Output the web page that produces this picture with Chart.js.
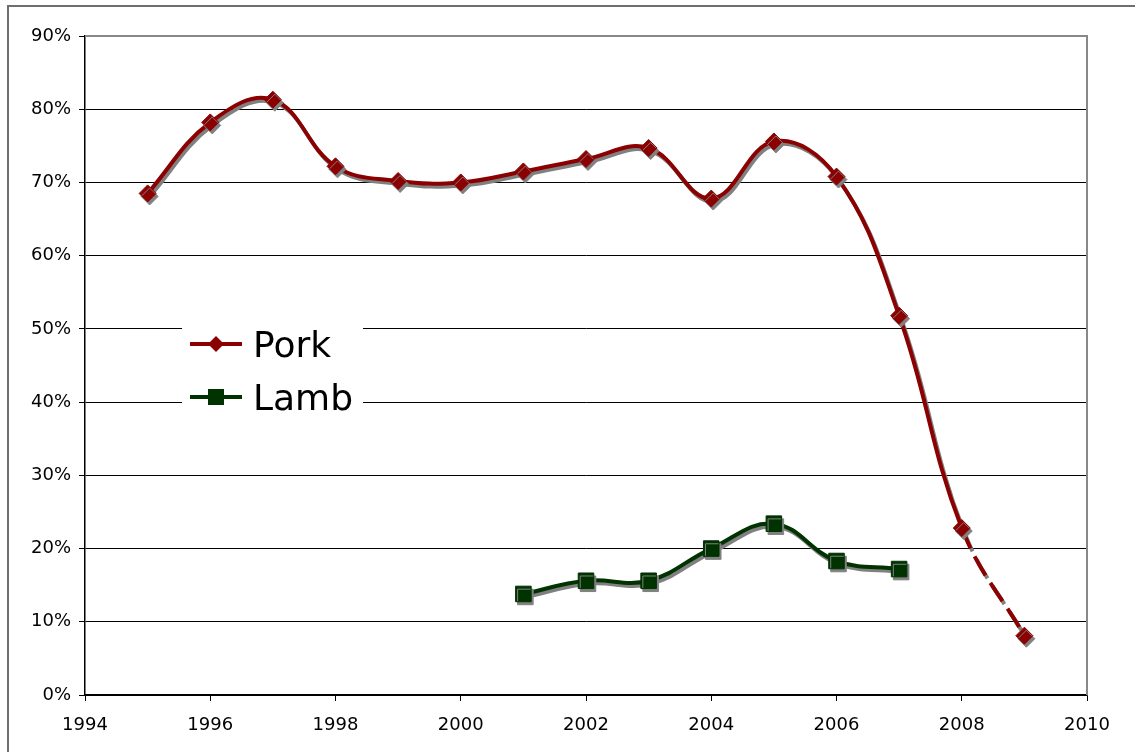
<!DOCTYPE html>
<html>
<head>
<meta charset="utf-8">
<script src="https://cdn.jsdelivr.net/npm/chart.js@4/dist/chart.umd.min.js"></script>
<style>
  html, body { margin: 0; padding: 0; background: #fff; }
  #wrap { position: relative; width: 1135px; height: 752px; overflow: hidden; background: #fff; }
  #frame { position: absolute; left: 7px; top: 5px; width: 1200px; height: 800px;
           border-left: 2px solid #6e6e6e; border-top: 2px solid #6e6e6e; pointer-events: none; }
  canvas { position: absolute; left: 0; top: 0; }
  #legend { position: absolute; left: 182px; top: 322px; width: 181px; height: 96px; background: #fff;
            font-family: "DejaVu Sans", sans-serif; font-size: 36px; color: #000; }
  .row { position: absolute; left: 8px; height: 44px; display: flex; align-items: center; }
  .row svg { margin-right: 9px; }
</style>
</head>
<body>
<div id="wrap">
  <canvas id="c" width="1135" height="752"></canvas>
  <div id="frame"></div>
  <div id="legend">
    <div class="row" style="top:0px;">
      <svg width="54" height="20"><line x1="0" y1="10" x2="52" y2="10" stroke="#8B0000" stroke-width="4"/><polygon points="26,2 34,10 26,18 18,10" fill="#8B0000"/></svg>
      <span>Pork</span>
    </div>
    <div class="row" style="top:53px;">
      <svg width="54" height="20"><line x1="0" y1="10" x2="52" y2="10" stroke="#003300" stroke-width="4"/><rect x="18" y="2" width="16" height="16" fill="#003300"/></svg>
      <span>Lamb</span>
    </div>
  </div>
</div>
<script>
const porkYears = [1995, 1996, 1997, 1998, 1999, 2000, 2001, 2002, 2003, 2004, 2005, 2006, 2007, 2008, 2009];
const porkValues = [68.5, 78.2, 81.3, 72.2, 70.2, 70.0, 71.5, 73.2, 74.7, 67.8, 75.6, 70.8, 51.8, 22.8, 8.1];
const lambYears = [2001, 2002, 2003, 2004, 2005, 2006, 2007];
const lambValues = [13.8, 15.6, 15.6, 20.0, 23.4, 18.3, 17.2];
const yTicks = [0, 10, 20, 30, 40, 50, 60, 70, 80, 90];
const xTicks = [1994, 1996, 1998, 2000, 2002, 2004, 2006, 2008, 2010];
const seriesNames = ['Pork', 'Lamb'];

const toPoints = (xs, ys) => xs.map((x, i) => ({ x: x, y: ys[i] }));

const shadowPlugin = {
  id: 'shadow',
  beforeDatasetDraw(chart) {
    const ctx = chart.ctx;
    ctx.save();
    ctx.shadowColor = 'rgba(128,128,128,1)';
    ctx.shadowOffsetX = 2;
    ctx.shadowOffsetY = 3;
    ctx.shadowBlur = 0;
  },
  afterDatasetDraw(chart) {
    chart.ctx.restore();
  }
};

const plotBorder = {
  id: 'plotBorder',
  beforeDatasetsDraw(chart) {
    const { ctx, chartArea: a } = chart;
    ctx.save();
    ctx.strokeStyle = '#888888';
    ctx.lineWidth = 2;
    ctx.beginPath();
    ctx.moveTo(a.left, a.top);
    ctx.lineTo(a.right, a.top);
    ctx.lineTo(a.right, a.bottom);
    ctx.stroke();
    ctx.restore();
  }
};

new Chart(document.getElementById('c'), {
  type: 'line',
  data: {
    datasets: [
      {
        label: seriesNames[0],
        data: toPoints(porkYears, porkValues),
        borderColor: '#8B0000',
        backgroundColor: '#8B0000',
        borderWidth: 4,
        tension: 0.4,
        pointStyle: 'rectRot',
        pointRadius: 8.5,
        pointBorderWidth: 1,
        pointBorderColor: '#8B0000',
        pointBackgroundColor: '#8B0000',
        segment: {
          borderDash: ctx => ctx.p1DataIndex === porkYears.length - 1 ? [22, 9] : undefined
        }
      },
      {
        label: seriesNames[1],
        data: toPoints(lambYears, lambValues),
        borderColor: '#003300',
        backgroundColor: '#003300',
        borderWidth: 4,
        tension: 0.4,
        pointStyle: 'rect',
        pointRadius: 11,
        pointBorderWidth: 1,
        pointBorderColor: '#003300',
        pointBackgroundColor: '#003300'
      }
    ]
  },
  options: {
    responsive: false,
    animation: false,
    layout: { padding: { top: 36, right: 48, left: 0, bottom: 0 } },
    plugins: { legend: { display: false }, tooltip: { enabled: false } },
    scales: {
      x: {
        type: 'linear',
        min: 1994, max: 2010,
        afterBuildTicks: s => { s.ticks = xTicks.map(v => ({ value: v })); },
        afterFit: s => { s.height = 57; },
        ticks: {
          callback: v => String(v),
          color: '#000',
          font: { family: 'DejaVu Sans', size: 18 },
          padding: 14,
          maxRotation: 0,
          autoSkip: false
        },
        grid: { drawOnChartArea: false, drawTicks: true, tickLength: 6, color: '#000', lineWidth: 1 },
        border: { color: '#000', width: 1.5 }
      },
      y: {
        min: 0, max: 90,
        afterBuildTicks: s => { s.ticks = yTicks.map(v => ({ value: v })); },
        afterFit: s => { s.width = 85; },
        ticks: {
          callback: v => v + '%',
          color: '#000',
          font: { family: 'DejaVu Sans', size: 18 },
          padding: 8
        },
        grid: { color: '#000', lineWidth: 1, tickLength: 6 },
        border: { color: '#000', width: 1.5 }
      }
    }
  },
  plugins: [shadowPlugin, plotBorder]
});
</script>
</body>
</html>
